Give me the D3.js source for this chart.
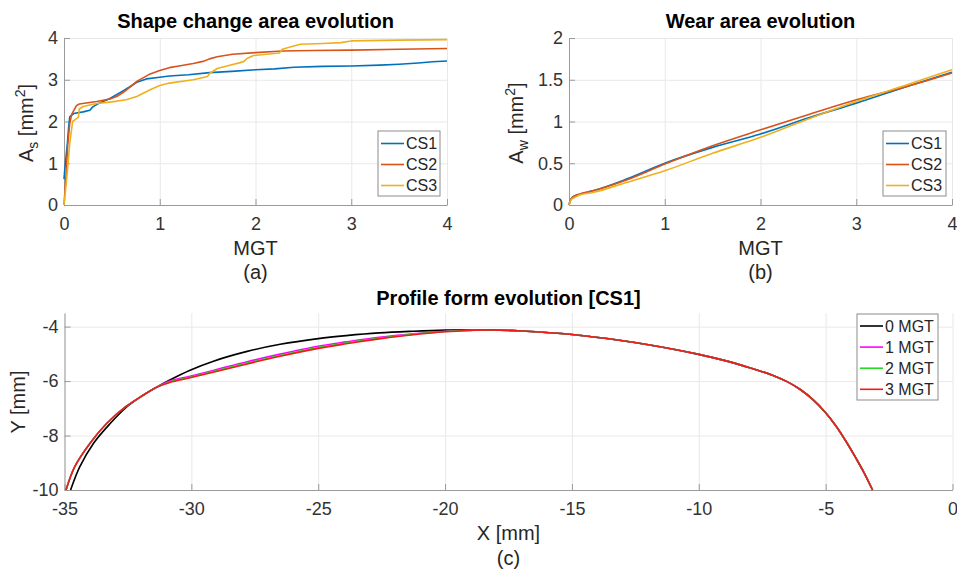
<!DOCTYPE html>
<html>
<head>
<meta charset="utf-8">
<script src="https://cdn.jsdelivr.net/npm/d3@7"></script>
<style>
body { margin: 0; background: #fff; }
svg { font-family: "Liberation Sans", Arial, sans-serif; }
.grid line { stroke: #e8e8e8; stroke-width: 1; }
.grid path { display: none; }
.axis path, .axis line { stroke: #9a9a9a; stroke-width: 1; }
.axis text { fill: #333; font-size: 18px; font-family: "Liberation Sans", Arial, sans-serif; }
</style>
</head>
<body>
<script>
// ---- (a) shape change area, A_s [mm2] vs MGT
var shapeCS1x = [0, 0.01, 0.035, 0.05, 0.06, 0.1, 0.2, 0.27, 0.3, 0.36, 0.48, 0.62, 0.7, 0.76, 0.86, 1.0, 1.1, 1.3, 1.52, 1.75, 2.0, 2.2, 2.4, 2.7, 3.0, 3.3, 3.5, 3.7, 3.85, 4.0];
var shapeCS1y = [0.62, 0.9, 1.47, 1.9, 2.11, 2.19, 2.23, 2.27, 2.35, 2.43, 2.55, 2.74, 2.85, 2.94, 3.02, 3.06, 3.09, 3.12, 3.17, 3.2, 3.24, 3.26, 3.3, 3.32, 3.33, 3.35, 3.37, 3.4, 3.43, 3.45];
var shapeCS2x = [0, 0.02, 0.04, 0.06, 0.08, 0.13, 0.16, 0.25, 0.34, 0.48, 0.55, 0.62, 0.7, 0.76, 0.9, 1.0, 1.1, 1.2, 1.35, 1.45, 1.52, 1.6, 1.76, 2.0, 2.28, 2.6, 3.0, 3.5, 4.0];
var shapeCS2y = [0, 0.67, 1.47, 1.95, 2.17, 2.38, 2.42, 2.45, 2.48, 2.54, 2.6, 2.7, 2.84, 2.96, 3.14, 3.22, 3.29, 3.33, 3.39, 3.44, 3.5, 3.55, 3.61, 3.65, 3.69, 3.7, 3.71, 3.73, 3.75];
var shapeCS3x = [0, 0.03, 0.06, 0.09, 0.12, 0.15, 0.16, 0.2, 0.34, 0.5, 0.65, 0.76, 0.9, 1.0, 1.1, 1.35, 1.5, 1.52, 1.6, 1.7, 1.84, 1.88, 1.91, 1.98, 2.25, 2.28, 2.39, 2.47, 2.7, 2.89, 3.0, 3.5, 4.0];
var shapeCS3y = [0, 0.67, 1.47, 2.0, 2.05, 2.1, 2.3, 2.36, 2.43, 2.47, 2.52, 2.6, 2.76, 2.86, 2.92, 3.0, 3.08, 3.15, 3.27, 3.33, 3.41, 3.44, 3.51, 3.58, 3.64, 3.73, 3.8, 3.85, 3.87, 3.89, 3.93, 3.95, 3.96];

// ---- (b) wear area, A_w [mm2] vs MGT
var wearX = [0, 0.02, 0.06, 0.11, 0.25, 0.6, 1.0, 1.5, 2.0, 2.52, 3.0, 3.53, 4.0];
var wearCS1 = [0, 0.07, 0.11, 0.13, 0.17, 0.31, 0.5, 0.69, 0.85, 1.05, 1.22, 1.42, 1.59];
var wearCS2 = [0, 0.07, 0.11, 0.13, 0.17, 0.30, 0.49, 0.71, 0.90, 1.09, 1.26, 1.42, 1.58];
var wearCS3 = [0, 0.06, 0.09, 0.12, 0.15, 0.27, 0.41, 0.62, 0.81, 1.04, 1.24, 1.44, 1.62];

// ---- (c) profile form [CS1], Y [mm] vs X [mm]
var newProfileX = [-34.76, -34.4, -33.86, -33.2, -32.55, -31.9, -31.4, -30.85, -30.05, -29.1, -27.8, -26.5, -25, -23.9, -22.6, -21.25, -20, -19, -18.2, -17, -15, -13, -11, -10, -9, -8, -7, -6.5, -6, -5.5, -5, -4.6, -4.2, -3.8, -3.5, -3.15];
var wornProfileX = [-34.94, -34.6, -34.0, -33.34, -32.6, -31.9, -31.4, -30.85, -30.05, -29.1, -27.8, -26.5, -25, -23.9, -22.6, -21.25, -20, -19, -18.2, -17, -15, -13, -11, -10, -9, -8, -7, -6.5, -6, -5.5, -5, -4.6, -4.2, -3.8, -3.5, -3.15];
var profile0 = [-10, -9.15, -8.29, -7.56, -6.95, -6.52, -6.24, -5.96, -5.6, -5.26, -4.91, -4.65, -4.44, -4.33, -4.23, -4.17, -4.13, -4.12, -4.12, -4.16, -4.29, -4.52, -4.83, -5.02, -5.24, -5.51, -5.82, -6.03, -6.31, -6.68, -7.16, -7.64, -8.21, -8.84, -9.34, -10];
var profile1 = [-10, -9.15, -8.29, -7.56, -6.95, -6.52, -6.24, -6.0, -5.82, -5.6, -5.29, -5.01, -4.72, -4.56, -4.39, -4.26, -4.17, -4.13, -4.12, -4.16, -4.29, -4.52, -4.83, -5.02, -5.24, -5.51, -5.82, -6.03, -6.31, -6.68, -7.16, -7.64, -8.21, -8.84, -9.34, -10];
var profile2 = [-10, -9.15, -8.29, -7.56, -6.95, -6.52, -6.24, -6.03, -5.86, -5.64, -5.34, -5.06, -4.77, -4.6, -4.43, -4.28, -4.18, -4.14, -4.12, -4.16, -4.29, -4.52, -4.83, -5.02, -5.24, -5.51, -5.82, -6.03, -6.31, -6.68, -7.16, -7.64, -8.21, -8.84, -9.34, -10];
var profile3 = [-10, -9.15, -8.29, -7.56, -6.95, -6.52, -6.24, -6.05, -5.88, -5.67, -5.37, -5.09, -4.8, -4.63, -4.45, -4.3, -4.19, -4.14, -4.12, -4.16, -4.29, -4.52, -4.83, -5.02, -5.24, -5.51, -5.82, -6.03, -6.31, -6.68, -7.16, -7.64, -8.21, -8.84, -9.34, -10];

// tick labels / names
var mgtTicks = [0, 1, 2, 3, 4];
var shapeTicks = [0, 1, 2, 3, 4];
var wearTicks = [0, 0.5, 1, 1.5, 2];
var profXTicks = [-35, -30, -25, -20, -15, -10, -5, 0];
var profYTicks = [-10, -8, -6, -4];
var caseNames = ["CS1", "CS2", "CS3"];
var caseColors = ["#0072bd", "#d95319", "#edb120"];
var mgtNames = ["0 MGT", "1 MGT", "2 MGT", "3 MGT"];
var mgtColors = ["#000000", "#ff00ff", "#22dd22", "#f01c1c"];


var width = 957,
    height = 570;

var svg = d3.select("body")
    .append("svg")
    .attr("width", width)
    .attr("height", height);

//grid + axes for one panel, returns the scales
function makeAxes(box, xDomain, yDomain, xTicks, yTicks) {
    var x = d3.scaleLinear().domain(xDomain).range([box.left, box.right]);
    var y = d3.scaleLinear().domain(yDomain).range([box.bottom, box.top]);
    var fmt = function (d) { return String(d); };

    svg.append("g")
        .attr("class", "grid")
        .attr("transform", "translate(0," + box.bottom + ")")
        .call(d3.axisBottom(x).tickValues(xTicks).tickSize(-(box.bottom - box.top)).tickFormat(""));
    svg.append("g")
        .attr("class", "grid")
        .attr("transform", "translate(" + box.left + ",0)")
        .call(d3.axisLeft(y).tickValues(yTicks).tickSize(-(box.right - box.left)).tickFormat(""));

    svg.append("g")
        .attr("class", "axis")
        .attr("transform", "translate(0," + box.bottom + ")")
        .call(d3.axisBottom(x).tickValues(xTicks).tickSizeInner(-6).tickSizeOuter(0).tickPadding(12).tickFormat(fmt));
    svg.append("g")
        .attr("class", "axis")
        .attr("transform", "translate(" + box.left + ",0)")
        .call(d3.axisLeft(y).tickValues(yTicks).tickSizeInner(-6).tickSizeOuter(0).tickPadding(6).tickFormat(fmt));

    return { x: x, y: y };
}

function drawLine(sc, xs, ys, color, curve) {
    var line = d3.line()
        .x(function (d) { return sc.x(d[0]); })
        .y(function (d) { return sc.y(d[1]); })
        .curve(curve || d3.curveLinear);
    svg.append("path")
        .datum(d3.zip(xs, ys))
        .attr("fill", "none")
        .attr("stroke", color)
        .attr("stroke-width", 1.6)
        .attr("stroke-linejoin", "round")
        .attr("d", line);
}

function legend(x0, y0, w, h, names, colors, rowTop, rowStep) {
    var g = svg.append("g").attr("transform", "translate(" + x0 + "," + y0 + ")");
    g.append("rect")
        .attr("width", w).attr("height", h)
        .attr("fill", "#fff").attr("stroke", "#8c8c8c").attr("stroke-width", 1);
    names.forEach(function (n, i) {
        var yy = rowTop + i * rowStep;
        g.append("line")
            .attr("x1", 3).attr("x2", 26).attr("y1", yy).attr("y2", yy)
            .attr("stroke", colors[i]).attr("stroke-width", 1.6);
        g.append("text")
            .attr("x", 28).attr("y", yy)
            .attr("dy", "0.36em")
            .attr("font-size", 16)
            .attr("fill", "#262626")
            .text(n);
    });
}

function label(x, y, txt, size, bold, color) {
    return svg.append("text")
        .attr("x", x).attr("y", y)
        .attr("text-anchor", "middle")
        .attr("font-size", size)
        .attr("font-weight", bold ? "bold" : "normal")
        .attr("fill", color || "#262626")
        .text(txt);
}

//rotated label with sub and sup like A_s [mm^2]
function areaLabel(x, y, sub) {
    var t = svg.append("text")
        .attr("transform", "translate(" + x + "," + y + ") rotate(-90)")
        .attr("text-anchor", "middle")
        .attr("font-size", 20)
        .attr("fill", "#262626");
    t.append("tspan").text("A");
    t.append("tspan").attr("dy", 5).attr("font-size", 14).text(sub);
    t.append("tspan").attr("dy", -5).text(" [mm");
    t.append("tspan").attr("dy", -8).attr("font-size", 14).text("2");
    t.append("tspan").attr("dy", 8).text("]");
}

// ---- panel (a)
var boxA = { left: 64, right: 447, top: 38, bottom: 205 };
var scA = makeAxes(boxA, [0, 4], [0, 4], mgtTicks, shapeTicks);
drawLine(scA, shapeCS1x, shapeCS1y, caseColors[0]);
drawLine(scA, shapeCS2x, shapeCS2y, caseColors[1]);
drawLine(scA, shapeCS3x, shapeCS3y, caseColors[2]);
legend(378, 131, 62, 65, caseNames, caseColors, 12.5, 21);
label(255.5, 28, "Shape change area evolution", 20, true, "#000");
label(255.5, 255, "MGT", 20);
label(255.5, 279, "(a)", 20);
areaLabel(33, 123, "s");

// ---- panel (b)
var boxB = { left: 569, right: 952, top: 38, bottom: 205 };
var scB = makeAxes(boxB, [0, 4], [0, 2], mgtTicks, wearTicks);
drawLine(scB, wearX, wearCS1, caseColors[0], d3.curveMonotoneX);
drawLine(scB, wearX, wearCS2, caseColors[1], d3.curveMonotoneX);
drawLine(scB, wearX, wearCS3, caseColors[2], d3.curveMonotoneX);
legend(883, 131, 63, 65, caseNames, caseColors, 12.5, 21);
label(760.5, 28, "Wear area evolution", 20, true, "#000");
label(760.5, 255, "MGT", 20);
label(760.5, 279, "(b)", 20);
areaLabel(523, 123, "w");

// ---- panel (c)
var boxC = { left: 64.5, right: 952.5, top: 313, bottom: 490 };
var scC = makeAxes(boxC, [-35, 0], [-10, -3.5], profXTicks, profYTicks);
drawLine(scC, newProfileX, profile0, mgtColors[0], d3.curveCatmullRom);
drawLine(scC, wornProfileX, profile1, mgtColors[1], d3.curveCatmullRom);
drawLine(scC, wornProfileX, profile2, mgtColors[2], d3.curveCatmullRom);
drawLine(scC, wornProfileX, profile3, mgtColors[3], d3.curveCatmullRom);
legend(857, 314, 81, 86, mgtNames, mgtColors, 12, 21.1);
label(508.5, 305, "Profile form evolution [CS1]", 20, true, "#000");
label(508.5, 540, "X [mm]", 20);
label(508.5, 565, "(c)", 20);
svg.append("text")
    .attr("transform", "translate(25,402) rotate(-90)")
    .attr("text-anchor", "middle")
    .attr("font-size", 20)
    .attr("fill", "#262626")
    .text("Y [mm]");
</script>
</body>
</html>
